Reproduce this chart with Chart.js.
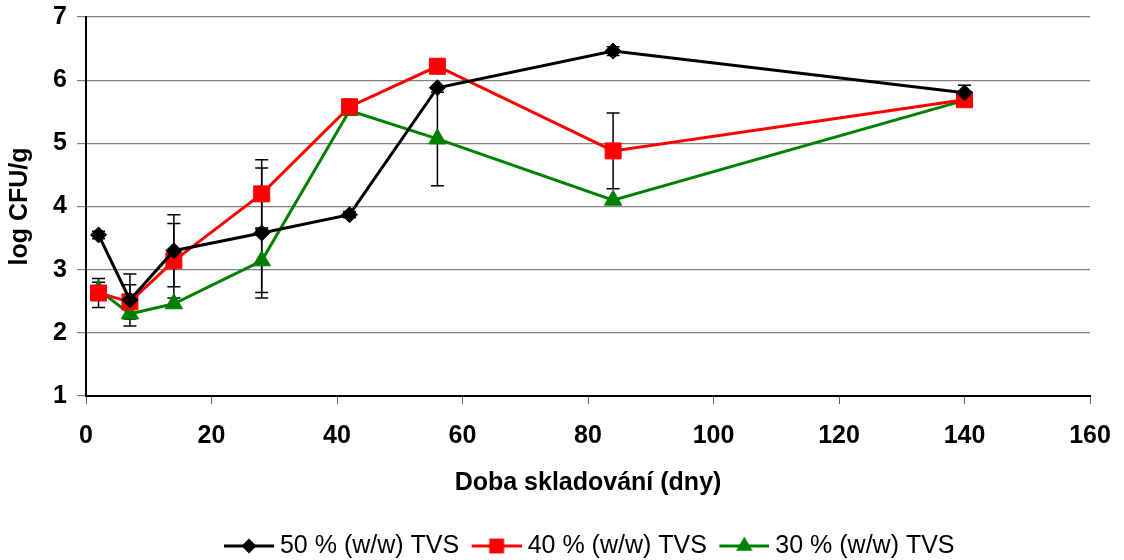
<!DOCTYPE html>
<html>
<head>
<meta charset="utf-8">
<script src="https://cdn.jsdelivr.net/npm/chart.js@4/dist/chart.umd.min.js"></script>
<style>
  html, body { margin: 0; padding: 0; background: #ffffff; }
  #wrap { width: 1124px; height: 560px; position: relative; }
</style>
</head>
<body>
<div id="wrap"><canvas id="c"></canvas></div>
<script>
// ---- data ----
const days = [2, 7, 14, 28, 42, 56, 84, 140];
const tvs50 = [3.55, 2.52, 3.30, 3.58, 3.87, 5.88, 6.46, 5.80];
const tvs40 = [2.63, 2.49, 3.14, 4.20, 5.58, 6.22, 4.88, 5.69];
const tvs30 = [2.68, 2.30, 2.46, 3.14, 5.52, 5.07, 4.10, 5.68];
const err50 = [0.06, 0.41, 0.57, 1.03, 0.05, 0, 0.07, 0.12];
const err40 = [0.23, 0.27, 0.59, 0.54, 0, 0, 0.60, 0];
const err30 = [0.12, 0, 0, 0.50, 0, 0.74, 0, 0];
const seriesLabels = ['50 % (w/w) TVS', '40 % (w/w) TVS', '30 % (w/w) TVS'];
const xTicks = [0, 20, 40, 60, 80, 100, 120, 140, 160];
const yTicks = [1, 2, 3, 4, 5, 6, 7];

const FONT = '"Liberation Sans", Arial, sans-serif';

function pts(vals) { return days.map((d, i) => ({ x: d, y: vals[i] })); }

// legend symbol: line with marker, drawn into a small canvas used as pointStyle
function legendImage(color, style, r) {
  const W = 59, H = 24, x0 = 9, x1 = 59, cy = 12, cx = (x0 + x1) / 2;
  const cv = document.createElement('canvas');
  cv.width = W; cv.height = H;
  const g = cv.getContext('2d');
  g.strokeStyle = color; g.lineWidth = 3;
  g.beginPath(); g.moveTo(x0, cy); g.lineTo(x1, cy); g.stroke();
  g.fillStyle = color;
  g.beginPath();
  if (style === 'rectRot') { g.moveTo(cx - r, cy); g.lineTo(cx, cy - r); g.lineTo(cx + r, cy); g.lineTo(cx, cy + r); }
  else if (style === 'rect') { const s = r * Math.SQRT1_2; g.rect(cx - s, cy - s, 2 * s, 2 * s); }
  else { const k = r * Math.sin(2 * Math.PI / 3); g.moveTo(cx, cy - r); g.lineTo(cx + k, cy + r / 2); g.lineTo(cx - k, cy + r / 2); }
  g.closePath(); g.fill();
  return cv;
}

const errors = [err50, err40, err30];
const errorBars = {
  id: 'errorBars',
  beforeDatasetsDraw(chart) {
    const ctx = chart.ctx;
    const xs = chart.scales.x, ys = chart.scales.y;
    ctx.save();
    ctx.strokeStyle = '#000000';
    ctx.lineWidth = 1.5;
    chart.data.datasets.forEach((ds, di) => {
      ds.data.forEach((p, i) => {
        const e = errors[di][i];
        if (!e) return;
        const px = xs.getPixelForValue(p.x);
        const top = ys.getPixelForValue(p.y + e);
        const bot = ys.getPixelForValue(p.y - e);
        ctx.beginPath();
        ctx.moveTo(px, top); ctx.lineTo(px, bot);
        ctx.moveTo(px - 6.5, top); ctx.lineTo(px + 6.5, top);
        ctx.moveTo(px - 6.5, bot); ctx.lineTo(px + 6.5, bot);
        ctx.stroke();
      });
    });
    ctx.restore();
  }
};

const colors = ['#000000', '#ff0000', '#008000'];
const styles = ['rectRot', 'rect', 'triangle'];
const radii = [8, 11.3, 10];
const legendRadii = [7.5, 10.5, 9.5];
const series = [tvs50, tvs40, tvs30];

new Chart(document.getElementById('c'), {
  type: 'line',
  data: {
    datasets: series.map((s, i) => ({
      label: seriesLabels[i],
      data: pts(s),
      borderColor: colors[i],
      backgroundColor: colors[i],
      borderWidth: 3,
      pointStyle: styles[i],
      pointRadius: radii[i],
      pointHoverRadius: radii[i],
      pointBorderWidth: 1,
      pointBackgroundColor: colors[i],
      pointBorderColor: colors[i],
      tension: 0,
      fill: false,
      clip: false
    }))
  },
  options: {
    responsive: true,
    maintainAspectRatio: false,
    animation: false,
    layout: { padding: { left: 0, right: 34, top: 17, bottom: -8.5 } },
    plugins: {
      tooltip: { enabled: false },
      legend: {
        position: 'bottom',
        fullSize: false,
        labels: {
          usePointStyle: true,
          pointStyleWidth: 46,
          padding: 10,
          color: '#000000',
          font: { family: FONT, size: 25 },
          generateLabels(chart) {
            return chart.data.datasets.map((ds, i) => ({
              text: ds.label,
              pointStyle: legendImage(colors[i], styles[i], legendRadii[i]),
              fillStyle: colors[i],
              strokeStyle: colors[i],
              lineWidth: 0,
              hidden: false,
              datasetIndex: i,
              fontColor: '#000000'
            }));
          }
        }
      }
    },
    scales: {
      x: {
        type: 'linear',
        min: 0, max: 160,
        afterBuildTicks(scale) { scale.ticks = xTicks.map(v => ({ value: v })); },
        afterFit(scale) { scale.height = 127.5; scale.paddingLeft = 0; scale.paddingRight = 0; },
        grid: { display: true, drawOnChartArea: false, drawTicks: true, tickLength: 8, color: '#666666', lineWidth: 1 },
        border: { display: true, color: '#000000', width: 2 },
        ticks: { color: '#000000', font: { family: FONT, size: 25, weight: 'bold' }, padding: 17, maxRotation: 0 },
        title: { display: true, text: 'Doba skladování (dny)', color: '#000000', font: { family: FONT, size: 25, weight: 'bold' }, padding: { top: 0, bottom: 25.5 } }
      },
      y: {
        type: 'linear',
        min: 1, max: 7,
        afterBuildTicks(scale) { scale.ticks = yTicks.map(v => ({ value: v })); },
        afterFit(scale) { scale.width = 86; scale.paddingTop = 0; scale.paddingBottom = 0; },
        grid: { display: true, drawTicks: true, tickLength: 9, color: '#808080', lineWidth: 1.2 },
        border: { display: true, color: '#000000', width: 2 },
        ticks: { color: '#000000', font: { family: FONT, size: 25, weight: 'bold' }, padding: 10 },
        title: { display: true, text: 'log CFU/g', color: '#000000', font: { family: FONT, size: 25, weight: 'bold' }, padding: { top: 5, bottom: 0 } }
      }
    }
  },
  plugins: [errorBars]
});
</script>
</body>
</html>
